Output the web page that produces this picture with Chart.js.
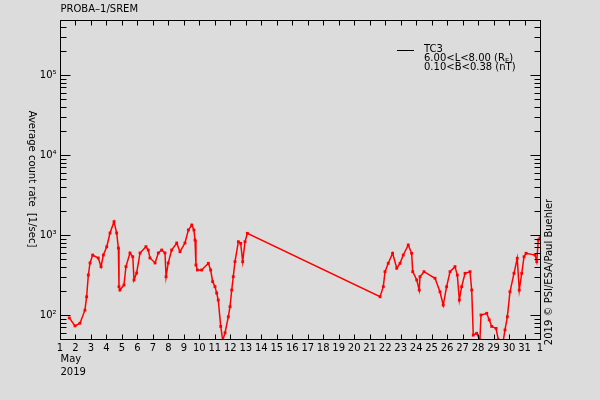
<!DOCTYPE html>
<html>
<head>
<meta charset="utf-8">
<script src="https://cdn.jsdelivr.net/npm/chart.js@4"></script>
<style>
  html, body { margin: 0; padding: 0; background: #dcdcdc; }
  #wrap { width: 600px; height: 400px; }
</style>
</head>
<body>
<div id="wrap"><canvas id="srem-chart" width="600" height="400"></canvas></div>
<script>
// time in days of May 2019 (1.0 = 1 May 00:00), rate in counts/sec
const days = [
  1.60, 1.97, 2.29, 2.61, 2.72, 2.83, 2.94, 3.11, 3.47, 3.65,
  3.80, 4.02, 4.23, 4.49, 4.66, 4.77, 4.81, 4.87, 5.13, 5.26,
  5.52, 5.70, 5.78, 5.95, 6.17, 6.55, 6.70, 6.81, 7.14, 7.35,
  7.57, 7.78, 7.85, 7.99, 8.21, 8.54, 8.75, 9.07, 9.29, 9.51,
  9.65, 9.72, 9.78, 9.87, 10.15, 10.58, 10.73, 10.86, 11.01, 11.12,
  11.22, 11.38, 11.51, 11.66, 11.87, 11.98, 12.09, 12.19, 12.30, 12.52,
  12.67, 12.80, 12.95, 13.10,
  21.67, 21.88, 21.99, 22.20, 22.48, 22.75, 22.96, 23.17, 23.49, 23.71,
  23.78, 24.04, 24.20, 24.25, 24.51, 25.22, 25.54, 25.75, 25.97, 26.19,
  26.51, 26.66, 26.79, 26.94, 27.16, 27.48, 27.59, 27.69, 27.91, 28.12,
  28.19, 28.56, 28.72, 28.88, 29.16, 29.31, 29.63, 29.74, 29.89, 30.06,
  30.32, 30.53, 30.66, 30.82, 30.97, 31.10, 31.68, 31.79, 31.89, 32.0
];
const rates = [
  92, 73, 79, 115, 169, 316, 447, 562, 516, 402,
  562, 714, 1059, 1466, 1059, 688, 226, 205, 237, 402,
  596, 535, 274, 335, 596, 714, 649, 516, 447, 596,
  649, 596, 301, 447, 649, 794, 618, 794, 1155, 1334,
  1155, 866, 422, 365, 365, 443, 365, 261, 226, 188,
  154, 72, 48, 60, 95, 127, 205, 301, 464, 824,
  787, 464, 824, 1050,
  169, 226, 348, 443, 591, 384, 443, 562, 750, 591,
  348, 274, 205, 301, 348, 288, 195, 133, 226, 348,
  402, 316, 154, 226, 332, 348, 205, 56, 59, 49,
  100, 105, 87, 72, 68, 49, 48, 65, 95, 195,
  332, 511, 205, 332, 535, 591, 562, 464, 866, 917
];
const dayLabels = ['1','2','3','4','5','6','7','8','9','10','11','12','13','14','15','16',
  '17','18','19','20','21','22','23','24','25','26','27','28','29','30','31','1'];
const decades = [2, 3, 4, 5];
const decadeLabels = ['10\u00b2', '10\u00b3', '10\u2074', '10\u2075'];

const FONT = '"DejaVu Sans", "Liberation Sans", sans-serif';

// ------------------------------------------------------------
// axes, ticks and texts drawn in IDL style
// ------------------------------------------------------------
const idlAxes = {
    id: 'idlAxes',
    beforeDraw(chart) {
        const ctx = chart.ctx;
        ctx.save();
        ctx.fillStyle = '#dcdcdc';
        ctx.fillRect(0, 0, chart.width, chart.height);
        ctx.restore();
    },
    afterDraw(chart) {
        const ctx = chart.ctx;
        const xs = chart.scales.x;
        const ys = chart.scales.y;
        const a = chart.chartArea;
        const L = Math.round(a.left) + 0.5, R = Math.round(a.right) + 0.5;
        const T = Math.round(a.top) + 0.5, B = Math.round(a.bottom) + 0.5;

        ctx.save();
        ctx.strokeStyle = '#000';
        ctx.lineWidth = 1;
        ctx.strokeRect(L, T, R - L, B - T);

        // x ticks top & bottom
        ctx.beginPath();
        for (let d = 1; d <= 32; d++) {
            const px = Math.round(xs.getPixelForValue(d)) + 0.5;
            ctx.moveTo(px, B); ctx.lineTo(px, B - 5);
            ctx.moveTo(px, T); ctx.lineTo(px, T + 5);
        }
        // y ticks left & right
        for (let n = 1; n <= 5; n++) {
            for (let k = 1; k <= 9; k++) {
                const v = k * Math.pow(10, n);
                if (v < ys.min || v > ys.max) continue;
                const py = Math.round(ys.getPixelForValue(v)) + 0.5;
                const len = k === 1 ? 10 : 6;
                ctx.moveTo(L, py); ctx.lineTo(L + len, py);
                ctx.moveTo(R, py); ctx.lineTo(R - len, py);
            }
        }
        ctx.stroke();

        ctx.fillStyle = '#000';
        ctx.font = '10px ' + FONT;
        ctx.textAlign = 'center';
        ctx.textBaseline = 'middle';
        dayLabels.forEach((lab, i) => {
            ctx.fillText(lab, xs.getPixelForValue(i + 1), B + 9);
        });

        ctx.textAlign = 'right';
        decades.forEach((n, i) => {
            ctx.fillText(decadeLabels[i], L - 4, ys.getPixelForValue(Math.pow(10, n)));
        });

        ctx.textAlign = 'left';
        ctx.textBaseline = 'alphabetic';
        ctx.fillText('May', L, 362);
        ctx.fillText('2019', L, 375);
        ctx.fillText('PROBA\u20131/SREM', L, 12);

        // legend
        ctx.beginPath();
        ctx.moveTo(397, 50.5); ctx.lineTo(414, 50.5);
        ctx.stroke();
        ctx.fillText('TC3', 424, 52);
        ctx.fillText('6.00<L<8.00 (R', 424, 61);
        const w = ctx.measureText('6.00<L<8.00 (R').width;
        ctx.font = '7px ' + FONT;
        ctx.fillText('E', 424 + w, 63);
        const we = ctx.measureText('E').width;
        ctx.font = '10px ' + FONT;
        ctx.fillText(')', 424 + w + we, 61);
        ctx.fillText('0.10<B<0.38 (nT)', 424, 70);

        // y title, reading top to bottom
        ctx.save();
        ctx.translate(29, 179);
        ctx.rotate(Math.PI / 2);
        ctx.textAlign = 'center';
        ctx.fillText('Average count rate  [1/sec]', 0, 0);
        ctx.restore();

        // credit, reading bottom to top
        ctx.save();
        ctx.translate(552, 272);
        ctx.rotate(-Math.PI / 2);
        ctx.textAlign = 'center';
        ctx.fillText('2019 \u00a9 PSI/ESA/Paul Buehler', 0, 0);
        ctx.restore();

        ctx.restore();
    }
};

const points = days.map((d, i) => ({ x: d, y: rates[i] }));

new Chart(document.getElementById('srem-chart'), {
    type: 'line',
    data: {
        datasets: [{
            label: 'TC3',
            data: points,
            borderColor: '#ff0000',
            backgroundColor: '#ff0000',
            borderWidth: 1.5,
            pointStyle: 'rect',
            pointRadius: 2,
            pointBorderWidth: 0,
            tension: 0
        }]
    },
    options: {
        responsive: false,
        animation: false,
        devicePixelRatio: 1,
        layout: { padding: { left: 60, right: 60, top: 20, bottom: 61 } },
        plugins: { legend: { display: false }, tooltip: { enabled: false } },
        scales: {
            x: { type: 'linear', min: 1, max: 32, display: false },
            y: { type: 'logarithmic', min: Math.pow(10, 1.7), max: Math.pow(10, 5.6875), display: false }
        }
    },
    plugins: [idlAxes]
});
</script>
</body>
</html>
